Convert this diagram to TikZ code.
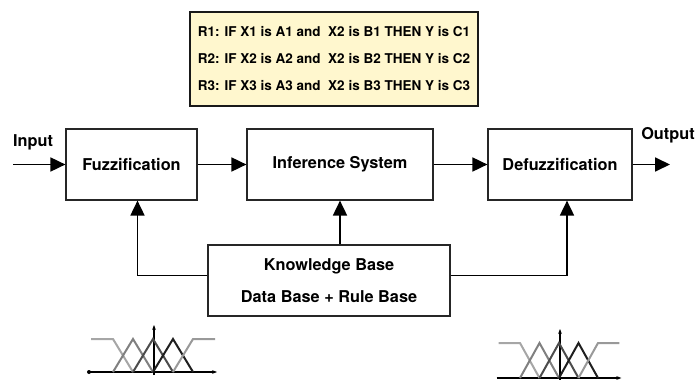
\documentclass[tikz,border=0pt]{standalone}
\usepackage{fontspec}
\setmainfont{TeX Gyre Heros}
\usetikzlibrary{arrows.meta}
\definecolor{rulefill}{RGB}{255,247,206}
\tikzset{
  block/.style={draw=black!85, line width=1.2pt, minimum height=71pt, inner sep=0pt,
    font=\fontsize{16.3}{20}\selectfont\bfseries},
  label/.style={font=\fontsize{16.3}{20}\selectfont\bfseries, inner sep=0pt},
  conn/.style={line width=1.8pt, -{Triangle[length=15pt,width=14pt]}},
  link/.style={line width=1.8pt},
  axisline/.style={line width=1.2pt},
  mf/.style={line width=2pt, line join=miter}
}
\newcommand{\mfsets}[4]{
  % #1 x of middle peak, #2 y of base, #3 spacing, #4 height
  \draw[axisline, -{Stealth[length=5pt]}] ({#1-3.2*#3},#2) -- ({#1+3.2*#3},#2);
  \draw[axisline, -{Stealth[length=5pt]}] (#1+1,#2+3) -- (#1+1,#2-#4-14);
  \draw[mf, black!35] ({#1-3.1*#3},#2-#4) -- ({#1-2*#3},#2-#4) -- ({#1-#3},#2);
  \foreach \k/\col in {-1/black!50, 0/black!70, 1/black!88}
  \draw[mf, \col] ({#1+(\k-1)*#3},#2) -- ({#1+\k*#3},#2-#4) -- ({#1+(\k+1)*#3},#2);
  \draw[mf, black!40] ({#1+#3},#2) -- ({#1+2*#3},#2-#4) -- ({#1+3.1*#3},#2-#4);
}
\begin{document}
\begin{tikzpicture}[x=1pt,y=-1pt]
  \useasboundingbox (0,0) rectangle (697,380);

  % Rules
  % =====
  \node[draw=black!90, line width=1.2pt, fill=rulefill, align=left,
    minimum width=288pt, minimum height=94pt, inner xsep=8pt,
    font=\fontsize{13.5}{27}\selectfont\bfseries] (rules) at (334,59)
  {R1: IF X1 is A1 and\ \ X2 is B1 THEN Y is C1\\
   R2: IF X2 is A2 and\ \ X2 is B2 THEN Y is C2\\
   R3: IF X3 is A3 and\ \ X2 is B3 THEN Y is C3};

  % Blocks
  % ======
  \node[block, minimum width=131pt] (fuzz) at (131.5,164.5) {Fuzzification};
  \node[block, minimum width=186pt] (infer) at (340,164.5) {Inference System};
  \node[block, minimum width=144pt] (defuzz) at (560,164.5) {Defuzzification};
  \node[block, minimum width=242pt, align=center,
    font=\fontsize{16.3}{32}\selectfont\bfseries] (kb) at (329,280.5)
  {Knowledge Base\\Data Base + Rule Base};

  \node[label] (inlabel) at (33,142) {Input};
  \node[label] (outlabel) at (668,135) {Output};
  \coordinate (in) at (13,164.5);
  \coordinate (out) at (670,164.5);

  % Connectors
  % ==========
  \draw[conn] (in) -- (fuzz);
  \draw[conn] (fuzz) -- (infer);
  \draw[conn] (infer) -- (defuzz);
  \draw[conn] (defuzz) -- (out);
  \draw[conn] ([yshift=5pt]kb.west) -| ([xshift=6pt]fuzz.south);
  \draw[conn] (infer.south |- kb.north) -- (infer.south);
  \draw[conn] ([yshift=5pt]kb.east) -| ([xshift=7pt]defuzz.south);

  % Membership functions
  % ====================
  \mfsets{153}{372}{20}{33};
  \fill (89,372) circle (2pt);
  \mfsets{559}{378}{19.5}{35};
\end{tikzpicture}
\end{document}
